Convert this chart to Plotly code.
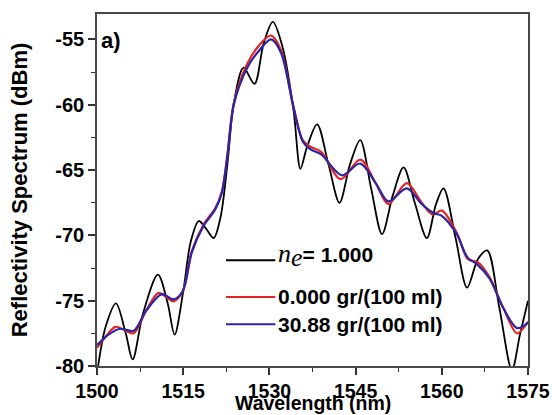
import plotly.graph_objects as go

# ---- data ----
wl_black = [1500.0, 1501.5, 1503.3, 1505.0, 1506.2, 1508.0, 1510.6, 1512.3, 1513.5, 1515.0,
            1516.3, 1517.7, 1519.0, 1520.3, 1521.5, 1522.7, 1523.8, 1525.5, 1527.4, 1529.0,
            1530.6, 1532.3, 1534.2, 1535.4, 1536.5, 1538.3, 1540.3, 1542.2, 1544.0, 1545.8,
            1547.7, 1549.6, 1551.5, 1553.35, 1555.3, 1557.4, 1559.0, 1560.3, 1562.4, 1564.4,
            1566.3, 1567.9, 1570.0, 1572.2, 1573.6, 1575.0]
ref_black = [-80.6, -77.0, -75.2, -77.5, -79.5, -76.0, -73.0, -75.2, -77.6, -74.3,
             -70.5, -68.9, -69.5, -70.2, -68.6, -64.5, -59.9, -57.15, -58.4, -55.3,
             -53.65, -55.6, -60.4, -64.9, -63.3, -61.5, -64.6, -67.5, -64.6, -62.7,
             -66.4, -69.9, -66.9, -64.8, -67.5, -70.2, -67.6, -66.4, -70.2, -74.0,
             -71.8, -71.15, -75.5, -80.3, -77.6, -75.0]

wl_red = [1500.0, 1501.8, 1503.2, 1505.0, 1506.4, 1508.5, 1510.7, 1512.0, 1513.3, 1514.9,
          1516.5, 1518.5, 1520.6, 1521.75, 1522.7, 1523.8, 1526.0, 1528.3, 1530.3, 1532.0,
          1534.2, 1535.8, 1537.1, 1539.0, 1542.4, 1545.8, 1548.5, 1550.7, 1553.9, 1556.5,
          1558.4, 1560.0, 1562.6, 1564.5, 1566.4, 1568.3, 1570.75, 1573.1, 1575.0]
ref_red = [-78.6, -77.6, -77.0, -77.3, -77.5, -75.8, -74.4, -74.7, -75.05, -74.3,
           -71.2, -69.2, -67.9, -66.6, -63.8, -59.9, -57.0, -55.4, -54.7, -55.8,
           -60.2, -62.7, -63.2, -63.6, -65.7, -64.2, -66.0, -67.6, -66.0, -67.5,
           -68.4, -68.1, -69.8, -71.8, -72.1, -73.2, -75.6, -77.5, -76.6]

wl_blue = [1500.0, 1502.0, 1504.0, 1506.4, 1508.5, 1511.3, 1513.3, 1514.9, 1516.5, 1518.5,
           1520.6, 1521.75, 1522.7, 1523.8, 1526.1, 1528.3, 1530.3, 1532.0, 1534.2, 1535.8,
           1537.1, 1539.0, 1542.6, 1545.8, 1548.5, 1550.7, 1553.9, 1556.5, 1558.6, 1560.0,
           1562.6, 1564.5, 1566.1, 1568.3, 1570.75, 1573.1, 1575.0]
ref_blue = [-78.4, -77.6, -77.15, -77.3, -75.8, -74.5, -74.9, -74.3, -71.3, -69.3,
            -68.0, -66.7, -63.9, -60.0, -57.2, -55.8, -55.0, -56.0, -60.2, -62.8,
            -63.4, -63.8, -65.4, -64.5, -66.0, -67.4, -66.4, -67.6, -68.3, -68.5,
            -69.9, -71.7, -72.2, -73.3, -75.6, -77.1, -76.7]

x_ticks = [1500, 1515, 1530, 1545, 1560, 1575]
x_ticktext = ["1500", "1515", "1530", "1545", "1560", "1575"]
y_ticks = [-80, -75, -70, -65, -60, -55]
y_ticktext = ["-80", "-75", "-70", "-65", "-60", "-55"]

NE = ("<span style='font-family:Liberation Serif;font-size:26px;font-style:italic;font-weight:normal'>n</span>"
      "<sub><span style='font-family:Liberation Serif;font-size:26px;font-style:italic;font-weight:normal'>e</span></sub>")
series_names = [NE + "= 1.000", "0.000 gr/(100 ml)", "30.88 gr/(100 ml)"]
colors = ["#000000", "#e3241f", "#2a24a8"]

FONT = "Liberation Sans"

fig = go.Figure()
for wl, val, col, w in [(wl_black, ref_black, colors[0], 1.8),
                        (wl_red, ref_red, colors[1], 2.2),
                        (wl_blue, ref_blue, colors[2], 2.2)]:
    fig.add_trace(go.Scatter(x=wl, y=val, mode="lines",
                             line=dict(color=col, width=w, shape="spline", smoothing=0.9),
                             showlegend=False, hoverinfo="skip"))

# manual legend
leg_y = [0.3005, 0.1962, 0.1186]
for i in range(3):
    fig.add_shape(type="line", xref="paper", yref="paper",
                  x0=0.2993, x1=0.4137, y0=leg_y[i], y1=leg_y[i],
                  line=dict(color=colors[i], width=2))
    fig.add_annotation(xref="paper", yref="paper", x=0.415, y=leg_y[i] + (0.014 if i == 0 else 0),
                       xanchor="left", yanchor="middle", showarrow=False,
                       text=series_names[i],
                       font=dict(family=FONT, size=21, color="black", weight="bold"))

fig.add_annotation(xref="paper", yref="paper", x=0.004, y=0.925, xanchor="left", yanchor="middle",
                   showarrow=False, text="a)",
                   font=dict(family=FONT, size=22, color="black", weight="bold"))

# x-axis title
fig.add_annotation(xref="paper", yref="paper", x=0.5, y=-0.139, xanchor="center", yanchor="bottom",
                   showarrow=False, text="Wavelength (nm)", borderpad=0,
                   font=dict(family=FONT, size=19.5, color="black", weight="bold"))

axis_common = dict(showline=True, linecolor="#4a4a4a", linewidth=1.6, mirror=True,
                   ticks="outside", ticklen=7, tickwidth=1.5, tickcolor="#333333",
                   showgrid=False, zeroline=False, automargin=False)

fig.update_xaxes(range=[1500, 1575], tickvals=x_ticks, ticktext=x_ticktext,
                 tickfont=dict(family=FONT, size=19.5, color="black", weight="bold"),
                 minor=dict(ticks="outside", ticklen=4, tickwidth=1.2, tickcolor="#333333",
                            tick0=1500, dtick=7.5),
                 **axis_common)
fig.update_yaxes(range=[-80, -53.05], tickvals=y_ticks, ticktext=y_ticktext,
                 tickfont=dict(family=FONT, size=20, color="black", weight="bold"),
                 minor=dict(ticks="outside", ticklen=4, tickwidth=1.2, tickcolor="#333333",
                            tick0=-80, dtick=2.5),
                 title=dict(text="Reflectivity Spectrum (dBm)", standoff=22,
                            font=dict(family=FONT, size=22, color="black", weight="bold")),
                 **axis_common)

fig.update_layout(width=552, height=415, margin=dict(l=97, r=24, t=14, b=49),
                  plot_bgcolor="white", paper_bgcolor="white")

fig.write_html("out.html")
